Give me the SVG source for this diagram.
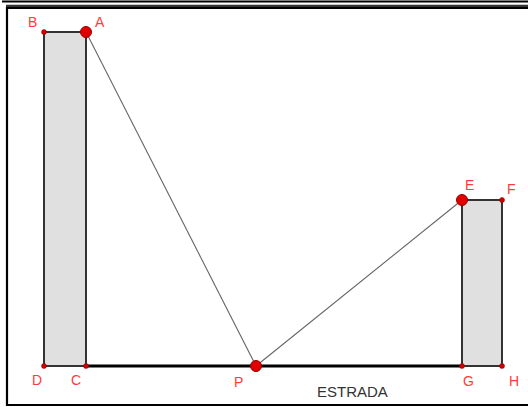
<svg xmlns="http://www.w3.org/2000/svg" width="528" height="407" viewBox="0 0 528 407">
<style>
.lbl{font-family:"Liberation Sans",Arial,sans-serif;font-size:14px;fill:#ff3b3b}
.bld{fill:#e0e0e0;stroke:#333;stroke-width:2}
.seg{stroke:#666;stroke-width:1.1;fill:none}
.big{fill:#e00000;stroke:#900;stroke-width:1}
.sm{fill:#d00000;stroke:#800;stroke-width:0.5}
</style>
<rect x="0" y="0" width="528" height="407" fill="#fff"/>
<g id="frame">
<line x1="2" y1="1.5" x2="528" y2="1.5" stroke="#000" stroke-width="2"/>
<line x1="6" y1="6" x2="528" y2="6" stroke="#333" stroke-width="2.5"/>
<polyline points="528,8 7,8 7,405 528,405" fill="none" stroke="#000" stroke-width="2.2"/>
</g>
<g id="building-left"><rect class="bld" x="44" y="32" width="42" height="334"/></g>
<g id="building-right"><rect class="bld" x="462" y="200" width="40" height="166"/></g>
<g id="connectors">
<line x1="86" y1="366" x2="462" y2="366" stroke="#000" stroke-width="3"/>
<line class="seg" x1="86" y1="32" x2="256" y2="366"/>
<line class="seg" x1="256" y1="366" x2="462" y2="200"/>
</g>
<g id="A"><circle class="big" cx="86" cy="32" r="5.5"/><text class="lbl" x="95" y="27">A</text></g>
<g id="B"><circle class="sm" cx="44" cy="32" r="2.5"/><text class="lbl" x="28" y="27">B</text></g>
<g id="C"><circle class="sm" cx="86" cy="366" r="2.5"/><text class="lbl" x="71" y="385">C</text></g>
<g id="D"><circle class="sm" cx="44" cy="366" r="2.5"/><text class="lbl" x="32" y="385">D</text></g>
<g id="P"><circle class="big" cx="256" cy="366" r="5.5"/><text class="lbl" x="234" y="387">P</text></g>
<g id="E"><circle class="big" cx="462" cy="200" r="5.5"/><text class="lbl" x="465" y="190">E</text></g>
<g id="F"><circle class="sm" cx="502" cy="200" r="2.5"/><text class="lbl" x="507" y="194">F</text></g>
<g id="G"><circle class="sm" cx="462" cy="366" r="2.5"/><text class="lbl" x="463" y="386">G</text></g>
<g id="H"><circle class="sm" cx="502" cy="366" r="2.5"/><text class="lbl" x="509" y="386">H</text></g>
<text x="317" y="397" font-family="Liberation Sans,Arial,sans-serif" font-size="15" fill="#333">ESTRADA</text>
</svg>
